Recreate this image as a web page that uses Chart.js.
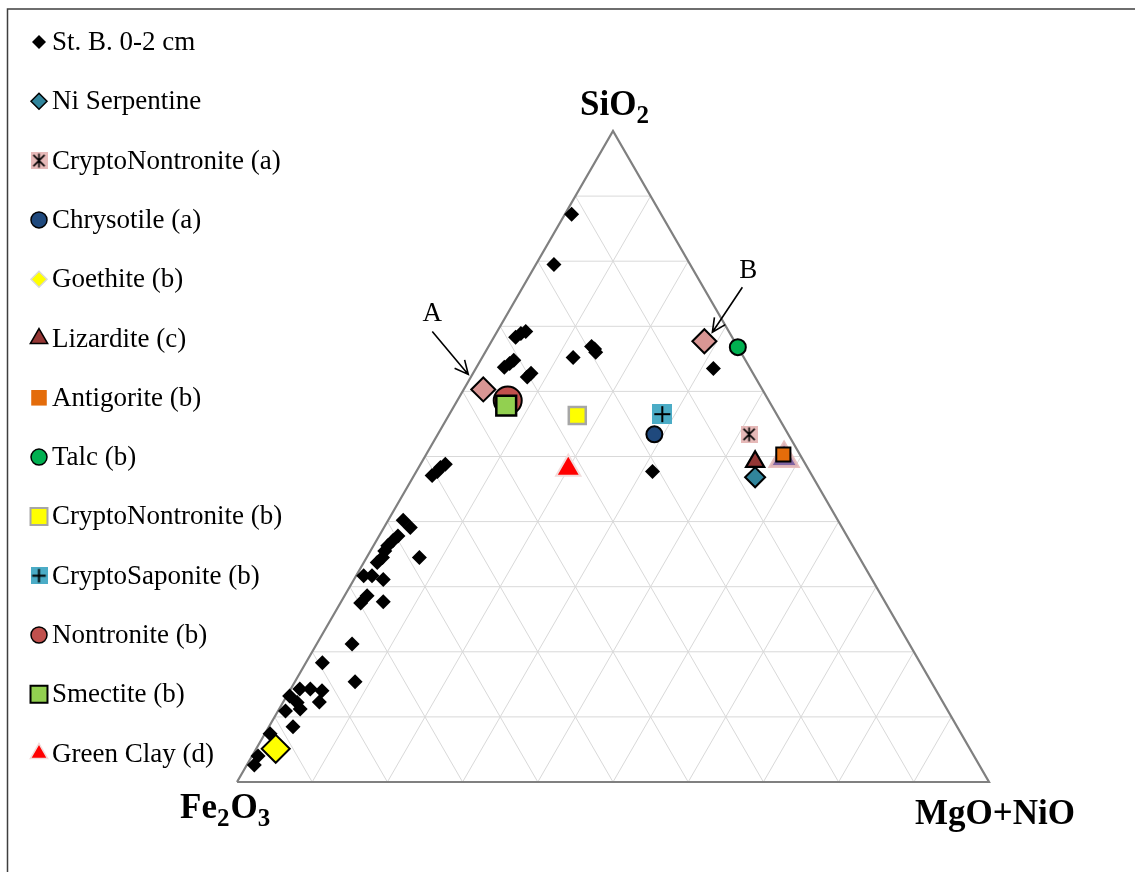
<!DOCTYPE html>
<html>
<head>
<meta charset="utf-8">
<script src="https://cdn.jsdelivr.net/npm/chart.js@4/dist/chart.umd.min.js"></script>
<style>
  html, body { margin: 0; padding: 0; background: #ffffff; }
  canvas { display: block; }
</style>
</head>
<body>
<canvas id="ternary" width="1135" height="872"></canvas>
<script>
// Compositions in wt% (SiO2, Fe2O3, MgO+NiO), one group of arrays per series.
const stB_SiO2   = [87.2, 79.5, 68.3, 68.9, 69.2, 63.7, 64.3, 64.8, 62.2, 62.8, 65.2, 66.9, 66.0, 66.5, 63.5, 47.7,
                    47.1, 47.7, 48.3, 48.8, 40.2, 39.1, 37.8, 37.1, 36.3, 35.5, 34.5, 33.7, 34.5, 31.7, 31.7, 31.1,
                    28.6, 27.5, 27.7, 21.2, 18.3, 15.4, 14.3, 14.3, 14.0, 13.2, 12.3, 12.2, 11.2, 10.9, 8.5, 7.4, 4.0, 2.6];
const stB_MgONiO = [0.9, 2.4, 2.9, 3.3, 3.8, 3.7, 4.1, 4.4, 7.5, 7.7, 12.1, 13.7, 14.7, 14.3, 31.6, 31.4,
                    2.4, 2.8, 2.9, 3.3, 2.0, 3.5, 2.5, 2.2, 1.9, 1.9, 2.1, 1.8, 7.0, 1.0, 2.1, 3.9,
                    3.0, 2.7, 5.6, 4.7, 2.2, 8.0, 1.2, 2.6, 4.3, 0.4, 4.8, 1.9, 2.8, 1.0, 3.2, 0.7, 0.8, 1.0];
const stB_Fe2O3  = [11.9, 18.1, 28.8, 27.8, 27.0, 32.6, 31.6, 30.8, 30.3, 29.5, 22.7, 19.4, 19.3, 19.2, 4.9, 20.9,
                    50.5, 49.5, 48.8, 47.9, 57.8, 57.4, 59.7, 60.7, 61.8, 62.6, 63.4, 64.5, 58.5, 67.3, 66.2, 65.0,
                    68.4, 69.8, 66.7, 74.1, 79.5, 76.6, 84.5, 83.1, 81.7, 86.4, 82.9, 85.9, 86.0, 88.1, 88.3, 91.9, 95.2, 96.4];

const niSerpentine_SiO2 = [46.8],  niSerpentine_MgONiO = [45.5],  niSerpentine_Fe2O3 = [7.7];
const cryptoNontA_SiO2  = [53.4],  cryptoNontA_MgONiO  = [41.4],  cryptoNontA_Fe2O3  = [5.2];
const chrysotile_SiO2   = [53.4],  chrysotile_MgONiO   = [28.8],  chrysotile_Fe2O3   = [17.8];
const goethite_SiO2     = [5.1],   goethite_MgONiO     = [2.6],   goethite_Fe2O3     = [92.3];
const lizardite_SiO2    = [49.2],  lizardite_MgONiO    = [44.3],  lizardite_Fe2O3    = [6.5];
const antigorite_SiO2   = [50.3],  antigorite_MgONiO   = [47.5],  antigorite_Fe2O3   = [2.2];
const talc_SiO2         = [66.8],  talc_MgONiO         = [33.2],  talc_Fe2O3         = [0.0];
const cryptoNontB_SiO2  = [56.3],  cryptoNontB_MgONiO  = [17.1],  cryptoNontB_Fe2O3  = [26.6];
const cryptoSap_SiO2    = [56.5],  cryptoSap_MgONiO    = [28.3],  cryptoSap_Fe2O3    = [15.2];
const nontronite_SiO2   = [58.6],  nontronite_MgONiO   = [6.7],   nontronite_Fe2O3   = [34.7];
const smectite_SiO2     = [57.8],  smectite_MgONiO     = [6.9],   smectite_Fe2O3     = [35.3];
const greenClay_SiO2    = [48.1],  greenClay_MgONiO    = [20.0],  greenClay_Fe2O3    = [31.9];
// Marked end-members A and B, and the extra serpentine point
const pointA_SiO2 = [60.3], pointA_MgONiO = [2.6],  pointA_Fe2O3 = [37.1];
const pointB_SiO2 = [67.7], pointB_MgONiO = [28.3], pointB_Fe2O3 = [4.0];
const serpExtra_SiO2 = [49.7], serpExtra_MgONiO = [47.9], serpExtra_Fe2O3 = [2.4];

// Ternary grid every 10 %
const gridSteps = [10, 20, 30, 40, 50, 60, 70, 80, 90];

const H = Math.sqrt(3) / 2;
// SiO2 apex at the top, Fe2O3 bottom-left, MgO+NiO bottom-right
function tern(si, fe, mg) {
  const t = si + fe + mg;
  return { x: (mg + si / 2) / t, y: (si / t) * H };
}
function series(si, mg, fe) {
  return si.map((s, i) => tern(s, fe[i], mg[i]));
}

// Composite markers
function squareWithAsterisk(size) {
  const c = document.createElement('canvas');
  c.width = c.height = size;
  const g = c.getContext('2d');
  g.fillStyle = '#e6b9b8';
  g.fillRect(0, 0, size, size);
  g.strokeStyle = '#000';
  g.lineWidth = 1.6;
  const m = size / 2, a = size * 0.33;
  g.beginPath();
  g.moveTo(m, m - a * 1.25); g.lineTo(m, m + a * 1.25);
  g.moveTo(m - a, m - a); g.lineTo(m + a, m + a);
  g.moveTo(m + a, m - a); g.lineTo(m - a, m + a);
  g.stroke();
  return c;
}
function squareWithPlus(size) {
  const c = document.createElement('canvas');
  c.width = c.height = size;
  const g = c.getContext('2d');
  g.fillStyle = '#4bacc6';
  g.fillRect(0, 0, size, size);
  g.strokeStyle = '#000';
  g.lineWidth = 2;
  const m = size / 2, a = size * 0.4;
  g.beginPath();
  g.moveTo(m, m - a); g.lineTo(m, m + a);
  g.moveTo(m - a, m); g.lineTo(m + a, m);
  g.stroke();
  return c;
}

function marker(label, data, style, legend, order) {
  return Object.assign({
    type: 'scatter', label, data, order,
    showLine: false, clip: false,
    pointBorderWidth: 0, pointBorderColor: '#000',
    legendMarker: legend
  }, style);
}

const datasets = [
  marker('St. B. 0-2 cm', series(stB_SiO2, stB_MgONiO, stB_Fe2O3),
    { pointStyle: 'rectRot', pointRadius: 7.5, pointBackgroundColor: '#000' },
    { pointStyle: 'rectRot', radius: 7, fill: '#000', stroke: '#000', borderWidth: 0 }, 40),
  marker('Ni Serpentine', series(niSerpentine_SiO2, niSerpentine_MgONiO, niSerpentine_Fe2O3),
    { pointStyle: 'rectRot', pointRadius: 10, pointBackgroundColor: '#31859c', pointBorderWidth: 2 },
    { pointStyle: 'rectRot', radius: 8, fill: '#31859c', stroke: '#000', borderWidth: 1.5 }, 10),
  marker('CryptoNontronite (a)', series(cryptoNontA_SiO2, cryptoNontA_MgONiO, cryptoNontA_Fe2O3),
    { pointStyle: squareWithAsterisk(17), pointRadius: 9 },
    { pointStyle: squareWithAsterisk(17), radius: 9 }, 11),
  marker('Chrysotile (a)', series(chrysotile_SiO2, chrysotile_MgONiO, chrysotile_Fe2O3),
    { pointStyle: 'circle', pointRadius: 8, pointBackgroundColor: '#1f497d', pointBorderWidth: 2 },
    { pointStyle: 'circle', radius: 8, fill: '#1f497d', stroke: '#000', borderWidth: 1.5 }, 12),
  marker('Goethite (b)', series(goethite_SiO2, goethite_MgONiO, goethite_Fe2O3),
    { pointStyle: 'rectRot', pointRadius: 14, pointBackgroundColor: '#ffff00', pointBorderWidth: 2 },
    { pointStyle: 'rectRot', radius: 8, fill: '#ffff00', stroke: '#d9d9d9', borderWidth: 1.5 }, 5),
  marker('Lizardite (c)', series(lizardite_SiO2, lizardite_MgONiO, lizardite_Fe2O3),
    { pointStyle: 'triangle', pointRadius: 10.5, pointBackgroundColor: '#953735', pointBorderWidth: 2.2 },
    { pointStyle: 'triangle', radius: 10, fill: '#953735', stroke: '#000', borderWidth: 1.5 }, 13),
  marker('Antigorite (b)', series(antigorite_SiO2, antigorite_MgONiO, antigorite_Fe2O3),
    { pointStyle: 'rect', pointRadius: 10, pointBackgroundColor: '#e46c0a', pointBorderWidth: 2 },
    { pointStyle: 'rect', radius: 11, fill: '#e46c0a', stroke: '#e46c0a', borderWidth: 0 }, 3),
  marker('Talc (b)', series(talc_SiO2, talc_MgONiO, talc_Fe2O3),
    { pointStyle: 'circle', pointRadius: 8, pointBackgroundColor: '#00b050', pointBorderWidth: 2 },
    { pointStyle: 'circle', radius: 8, fill: '#00b050', stroke: '#000', borderWidth: 1.5 }, 14),
  marker('CryptoNontronite (b)', series(cryptoNontB_SiO2, cryptoNontB_MgONiO, cryptoNontB_Fe2O3),
    { pointStyle: 'rect', pointRadius: 12, pointBackgroundColor: '#ffff00', pointBorderColor: '#a6a6a6', pointBorderWidth: 2.5 },
    { pointStyle: 'rect', radius: 12, fill: '#ffff00', stroke: '#a6a6a6', borderWidth: 2 }, 15),
  marker('CryptoSaponite (b)', series(cryptoSap_SiO2, cryptoSap_MgONiO, cryptoSap_Fe2O3),
    { pointStyle: squareWithPlus(20), pointRadius: 10 },
    { pointStyle: squareWithPlus(17), radius: 9 }, 16),
  marker('Nontronite (b)', series(nontronite_SiO2, nontronite_MgONiO, nontronite_Fe2O3),
    { pointStyle: 'circle', pointRadius: 14, pointBackgroundColor: '#c0504d', pointBorderWidth: 2 },
    { pointStyle: 'circle', radius: 8, fill: '#c0504d', stroke: '#000', borderWidth: 1.5 }, 2),
  marker('Smectite (b)', series(smectite_SiO2, smectite_MgONiO, smectite_Fe2O3),
    { pointStyle: 'rect', pointRadius: 14, pointBackgroundColor: '#92d050', pointBorderWidth: 2.5 },
    { pointStyle: 'rect', radius: 12, fill: '#92d050', stroke: '#000', borderWidth: 2 }, 1),
  marker('Green Clay (d)', series(greenClay_SiO2, greenClay_MgONiO, greenClay_Fe2O3),
    { pointStyle: 'triangle', pointRadius: 14, pointBackgroundColor: '#ff0000', pointBorderColor: '#f2dcdb', pointBorderWidth: 2 },
    { pointStyle: 'triangle', radius: 10, fill: '#ff0000', stroke: '#f2dcdb', borderWidth: 1.5 }, 17),
  marker('A', series(pointA_SiO2, pointA_MgONiO, pointA_Fe2O3),
    { pointStyle: 'rectRot', pointRadius: 12, pointBackgroundColor: '#d99694', pointBorderWidth: 2 }, null, 18),
  marker('B', series(pointB_SiO2, pointB_MgONiO, pointB_Fe2O3),
    { pointStyle: 'rectRot', pointRadius: 12, pointBackgroundColor: '#d99694', pointBorderWidth: 2 }, null, 19),
  marker('Serpentine', series(serpExtra_SiO2, serpExtra_MgONiO, serpExtra_Fe2O3),
    { pointStyle: 'triangle', pointRadius: 16, pointBackgroundColor: '#8064a2', pointBorderColor: 'rgba(230,185,184,0.9)', pointBorderWidth: 3 }, null, 4)
];

// Grid lines parallel to each side, then the outline of the triangle
function segment(p, q, color, width, order) {
  return { type: 'scatter', data: [p, q], showLine: true, borderColor: color, borderWidth: width,
           pointRadius: 0, order, clip: false, legendMarker: null };
}
gridSteps.forEach(k => {
  const r = 100 - k;
  datasets.push(segment(tern(k, r, 0), tern(k, 0, r), '#d9d9d9', 1, 100)); // constant SiO2
  datasets.push(segment(tern(0, r, k), tern(r, 0, k), '#d9d9d9', 1, 100)); // constant MgO+NiO
  datasets.push(segment(tern(0, k, r), tern(r, k, 0), '#d9d9d9', 1, 100)); // constant Fe2O3
});
datasets.push({
  type: 'scatter', data: [tern(0, 100, 0), tern(0, 0, 100), tern(100, 0, 0), tern(0, 100, 0)],
  showLine: true, borderColor: '#808080', borderWidth: 2.2, pointRadius: 0, order: 90, clip: false,
  legendMarker: null, borderJoinStyle: 'miter'
});

function drawLabel(ctx, parts, x, y) {
  // parts: [text, isSubscript]
  let cx = x;
  parts.forEach(([t, sub]) => {
    ctx.font = sub ? 'bold 25px "Liberation Serif"' : 'bold 35px "Liberation Serif"';
    ctx.fillText(t, cx, sub ? y + 8 : y);
    cx += ctx.measureText(t).width + (sub ? 1 : 0);
  });
}

function arrow(ctx, x1, y1, x2, y2) {
  const ang = Math.atan2(y2 - y1, x2 - x1), L = 15, spread = 0.45;
  ctx.beginPath();
  ctx.moveTo(x1, y1); ctx.lineTo(x2, y2);
  ctx.moveTo(x2 - L * Math.cos(ang - spread), y2 - L * Math.sin(ang - spread));
  ctx.lineTo(x2, y2);
  ctx.lineTo(x2 - L * Math.cos(ang + spread), y2 - L * Math.sin(ang + spread));
  ctx.stroke();
}

const decorations = {
  id: 'decorations',
  beforeDraw(chart) {
    const ctx = chart.ctx;
    ctx.save();
    ctx.fillStyle = '#fff';
    ctx.fillRect(0, 0, chart.width, chart.height);
    ctx.strokeStyle = '#3f3f3f';
    ctx.lineWidth = 1.5;
    ctx.beginPath();
    ctx.moveTo(7.5, chart.height); ctx.lineTo(7.5, 9); ctx.lineTo(chart.width, 9);
    ctx.stroke();
    ctx.restore();
  },
  afterDraw(chart) {
    const ctx = chart.ctx;
    ctx.save();
    // legend
    let row = 0;
    chart.data.datasets.forEach(ds => {
      const lm = ds.legendMarker;
      if (!lm) return;
      const y = 42 + row * 59.3;
      ctx.fillStyle = lm.fill || '#000';
      ctx.strokeStyle = lm.stroke || '#000';
      ctx.lineWidth = lm.borderWidth || 0;
      Chart.helpers.drawPoint(ctx, { pointStyle: lm.pointStyle, radius: lm.radius, rotation: 0,
                                     borderWidth: lm.borderWidth || 0 }, 39, y);
      ctx.fillStyle = '#000';
      ctx.font = '27px "Liberation Serif"';
      ctx.textBaseline = 'middle';
      ctx.textAlign = 'left';
      ctx.fillText(ds.label, 52, y + 1);
      row++;
    });

    // apex labels
    ctx.fillStyle = '#000';
    ctx.textBaseline = 'alphabetic';
    drawLabel(ctx, [['SiO', false], ['2', true]], 580, 115);
    drawLabel(ctx, [['Fe', false], ['2', true], ['O', false], ['3', true]], 180, 818);
    drawLabel(ctx, [['MgO+NiO', false]], 915, 824);

    // A and B callouts
    const idxA = chart.data.datasets.findIndex(d => d.label === 'A');
    const idxB = chart.data.datasets.findIndex(d => d.label === 'B');
    const pA = chart.getDatasetMeta(idxA).data[0];
    const pB = chart.getDatasetMeta(idxB).data[0];
    ctx.strokeStyle = '#000';
    ctx.lineWidth = 1.6;
    arrow(ctx, pA.x - 51, pA.y - 58, pA.x - 15, pA.y - 15);
    arrow(ctx, pB.x + 38, pB.y - 54, pB.x + 8, pB.y - 9);
    ctx.font = '27px "Liberation Serif"';
    ctx.textAlign = 'center';
    ctx.textBaseline = 'middle';
    ctx.fillText('A', pA.x - 51, pA.y - 76);
    ctx.fillText('B', pB.x + 44, pB.y - 70);
    ctx.restore();
  }
};

new Chart(document.getElementById('ternary'), {
  type: 'scatter',
  data: { datasets },
  options: {
    responsive: false,
    animation: false,
    events: [],
    layout: { padding: { left: 237, right: 146, top: 131, bottom: 90 } },
    scales: {
      x: { type: 'linear', min: 0, max: 1, display: false },
      y: { type: 'linear', min: 0, max: H, display: false }
    },
    plugins: { legend: { display: false }, tooltip: { enabled: false } }
  },
  plugins: [decorations]
});
</script>
</body>
</html>
